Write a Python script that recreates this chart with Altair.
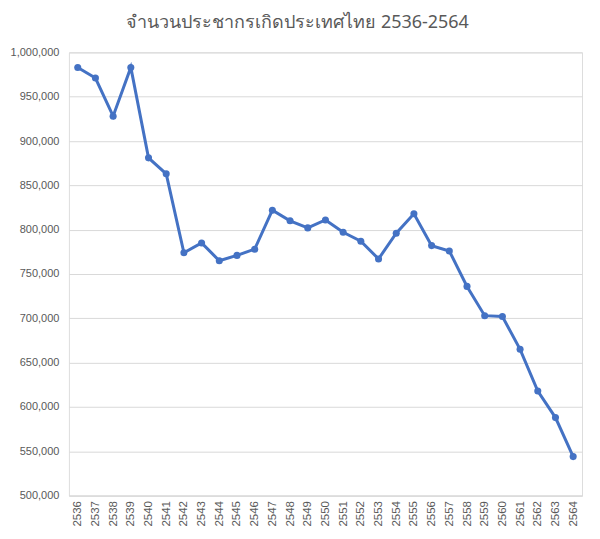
import altair as alt
import pandas as pd

years = [str(y) for y in range(2536, 2565)]
births = [983000, 971000, 928000, 983000, 881000, 863000, 774000, 785000, 765000,
          771000, 778000, 822000, 810000, 802000, 811000, 797000, 787000, 767000,
          796000, 818000, 782000, 776000, 736000, 703000, 702000, 665000, 618000,
          588000, 544000]
y_ticks = list(range(500000, 1000001, 50000))
title_text = "จำนวนประชากรเกิดประเทศไทย 2536-2564"

df = pd.DataFrame({"year": years, "births": births})

base = alt.Chart(df).encode(
    x=alt.X("year:O", sort=years,
            scale=alt.Scale(paddingInner=0, paddingOuter=0.5),
            axis=alt.Axis(title=None, labelAngle=-90, labelFontSize=11.5,
                          labelColor="#595959", labelFont="Liberation Sans, sans-serif",
                          domain=True, domainColor="#d9d9d9", ticks=False,
                          labelPadding=5, grid=False, labelBaseline="middle", labelAlign="right")),
    y=alt.Y("births:Q", scale=alt.Scale(domain=[500000, 1000000], nice=False),
            axis=alt.Axis(title=None, values=y_ticks, format=",.0f", labelFontSize=11,
                          labelColor="#595959", labelFont="Liberation Sans, sans-serif",
                          domain=False, ticks=False, labelPadding=10,
                          gridColor="#d9d9d9", gridWidth=1)),
)

line = base.mark_line(color="#4472C4", strokeWidth=3)
pts = base.mark_point(color="#4472C4", filled=True, size=50, opacity=1)

chart = (line + pts).properties(
    width=514, height=444,
    title=alt.TitleParams(title_text, fontSize=18, color="#595959", fontWeight="normal",
                          font="Noto Sans, sans-serif", anchor="middle", dx=-28, offset=14),
    autosize=alt.AutoSizeParams(type="none"),
    padding={"left": 61, "top": 44, "right": 10, "bottom": 35},
).configure_view(stroke=None).configure(background="white")

chart.save("out.html", embed_options={"renderer": "svg", "actions": False})
